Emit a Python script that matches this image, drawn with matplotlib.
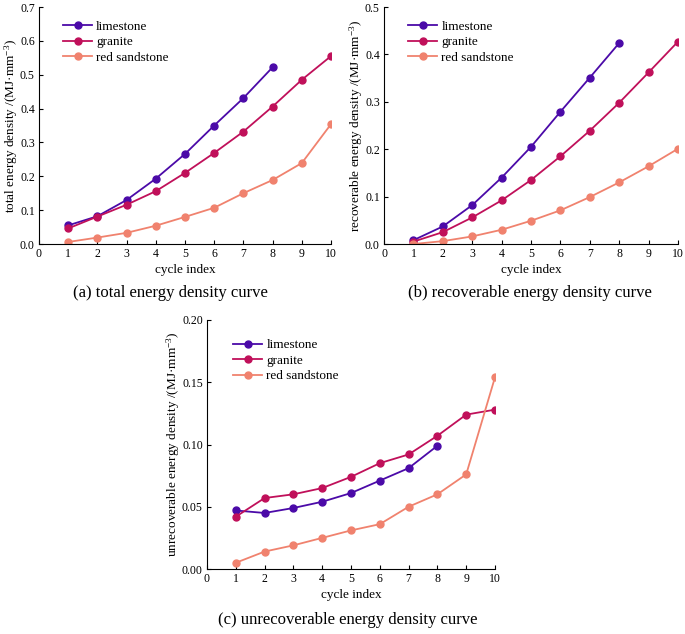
import matplotlib
matplotlib.use("Agg")
from matplotlib import pyplot as plt

plt.rcParams["font.family"] = ["Liberation Serif", "DejaVu Serif"]
plt.rcParams["mathtext.fontset"] = "custom"
plt.rcParams["mathtext.rm"] = "Liberation Serif"
plt.rcParams["mathtext.default"] = "regular"

# data
cycles = list(range(1, 11))
names = ["limestone", "granite", "red sandstone"]
colours = ["#4b0aa8", "#c0105a", "#f0826e"]

total_limestone = [0.055, 0.082, 0.130, 0.193, 0.266, 0.350, 0.431, 0.522]
total_granite = [0.046, 0.081, 0.116, 0.156, 0.210, 0.269, 0.332, 0.406, 0.485, 0.555]
total_sandstone = [0.006, 0.019, 0.033, 0.054, 0.080, 0.107, 0.150, 0.189, 0.239, 0.354]

recov_limestone = [0.008, 0.037, 0.082, 0.140, 0.205, 0.279, 0.351, 0.424]
recov_granite = [0.005, 0.025, 0.056, 0.092, 0.135, 0.185, 0.239, 0.298, 0.362, 0.427]
recov_sandstone = [0.000, 0.006, 0.016, 0.030, 0.049, 0.071, 0.099, 0.130, 0.164, 0.201]

unrec_limestone = [0.047, 0.045, 0.049, 0.054, 0.061, 0.071, 0.081, 0.099]
unrec_granite = [0.042, 0.057, 0.060, 0.065, 0.074, 0.085, 0.092, 0.107, 0.124, 0.128]
unrec_sandstone = [0.005, 0.014, 0.019, 0.025, 0.031, 0.036, 0.050, 0.060, 0.076, 0.154]

yticks_a = [0.0, 0.1, 0.2, 0.3, 0.4, 0.5, 0.6, 0.7]
yticks_b = [0.0, 0.1, 0.2, 0.3, 0.4, 0.5]
yticks_c = [0.00, 0.05, 0.10, 0.15, 0.20]

W, H = 685, 634
fig = plt.figure(figsize=(W / 100, H / 100), dpi=100)


def px_axes(left, top, right, bottom):
    """ Adds axes given pixel edges of the plotting area """
    return fig.add_axes([left / W, 1 - bottom / H, (right - left) / W, (bottom - top) / H])


def draw_panel(ax, series, yticks, fmt, ylabel, legend_anchor):
    for vals, name, c in zip(series, names, colours):
        ax.plot(cycles[:len(vals)], vals, color=c, lw=1.3, marker="o", ms=5, label=name)
    ax.set_xlim(0, 10)
    ax.set_ylim(yticks[0], yticks[-1])
    ax.set_xticks(range(0, 11))
    ax.set_yticks(yticks)
    ax.set_yticklabels([fmt.format(v) for v in yticks])
    for s in ("top", "right"):
        ax.spines[s].set_visible(False)
    ax.tick_params(direction="in", length=3, width=0.8, labelsize=8.5, pad=3)
    ax.set_xlabel("cycle index", fontsize=9.5, labelpad=3)
    ax.set_ylabel(ylabel, fontsize=9.5, labelpad=0)
    ax.legend(loc="upper left", bbox_to_anchor=legend_anchor, frameon=False, fontsize=9.5,
              handlelength=2.2, handletextpad=0.3, labelspacing=0.25, borderaxespad=0)


ax_a = px_axes(39, 7, 331, 244)
draw_panel(ax_a, [total_limestone, total_granite, total_sandstone], yticks_a, "{:.1f}",
           "total energy density /(MJ·mm$^{-3}$)", (0.065, 0.965))

ax_b = px_axes(384, 7, 678, 244)
draw_panel(ax_b, [recov_limestone, recov_granite, recov_sandstone], yticks_b, "{:.1f}",
           "recoverable energy density /(MJ·mm$^{-3}$)", (0.065, 0.965))

ax_c = px_axes(207, 320, 495, 569)
draw_panel(ax_c, [unrec_limestone, unrec_granite, unrec_sandstone], yticks_c, "{:.2f}",
           "unrecoverable energy density /(MJ·mm$^{-3}$)", (0.073, 0.945))

# captions
fig.text(170 / W, 1 - 293 / H, "(a) total energy density curve", ha="center", va="center", fontsize=12)
fig.text(530 / W, 1 - 293 / H, "(b) recoverable energy density curve", ha="center", va="center", fontsize=12)
fig.text(348 / W, 1 - 620 / H, "(c) unrecoverable energy density curve", ha="center", va="center", fontsize=12)

fig.savefig("out.png", dpi=100)
